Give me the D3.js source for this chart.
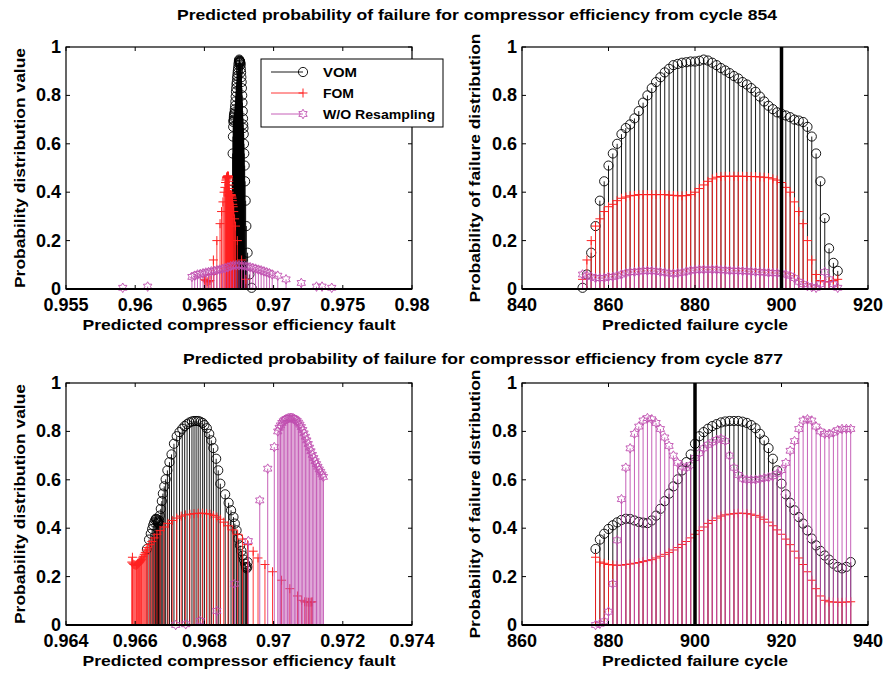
<!DOCTYPE html>
<html>
<head>
<meta charset="utf-8">
<script src="https://cdn.jsdelivr.net/npm/d3@7"></script>
<style>
body { margin: 0; background: #fff; }
text { font-family: "Liberation Sans", Arial, sans-serif; font-weight: bold; fill: #000; }
</style>
</head>
<body>
<svg width="884" height="675"></svg>
<script>
// ---- data: run from cycle 854 ----
var cycles854 = [854,855,856,857,858,859,860,861,862,863,864,865,866,867,868,869,870,871,872,873,
  874,875,876,877,878,879,880,881,882,883,884,885,886,887,888,889,890,891,892,893,
  894,895,896,897,898,899,900,901,902,903,904,905,906,907,908,909,910,911,912,913];
var vom854 = [0.005,0.06,0.15,0.26,0.365,0.445,0.51,0.56,0.60,0.64,
  0.665,0.68,0.705,0.735,0.77,0.80,0.83,0.855,0.875,0.895,
  0.91,0.925,0.93,0.935,0.937,0.94,0.94,0.943,0.948,0.944,
  0.935,0.925,0.913,0.903,0.892,0.88,0.87,0.855,0.845,0.83,
  0.815,0.795,0.775,0.757,0.743,0.73,0.724,0.717,0.71,0.70,
  0.696,0.69,0.67,0.63,0.56,0.445,0.293,0.168,0.108,0.075];
var fom854 = [0.04,0.12,0.2,0.26,0.29,0.32,0.34,0.35,0.365,0.375,
  0.38,0.385,0.387,0.39,0.39,0.39,0.39,0.39,0.39,0.39,
  0.388,0.387,0.385,0.385,0.386,0.39,0.40,0.415,0.43,0.445,
  0.455,0.462,0.465,0.466,0.466,0.466,0.466,0.466,0.465,0.465,
  0.464,0.463,0.462,0.46,0.455,0.45,0.44,0.42,0.40,0.36,
  0.32,0.27,0.2,0.12,0.06,0.035,0.03,0.03,0.035,0.04];
var wom854 = [0.06,0.055,0.05,0.045,0.045,0.045,0.05,0.05,0.055,0.06,
  0.065,0.07,0.07,0.072,0.075,0.075,0.075,0.073,0.07,0.068,
  0.065,0.063,0.065,0.068,0.072,0.076,0.078,0.08,0.08,0.08,
  0.08,0.08,0.078,0.077,0.076,0.075,0.075,0.074,0.073,0.072,
  0.07,0.07,0.068,0.067,0.066,0.065,0.064,0.06,0.055,0.045,
  0.03,0.02,0.012,0.008,0.005,0.02,0.07,0.04,0.02,0.005];
// efficiency fault for the same points
var vomFault854 = [0.96841,0.96825,0.96812,0.96803,0.96798,0.96794,0.96791,0.96788,0.96786,0.96784,
  0.96782,0.96780,0.96779,0.96777,0.96775,0.96773,0.96771,0.96769,0.96767,0.96765,
  0.96763,0.96761,0.96760,0.96759,0.96758,0.96757,0.96756,0.96754,0.96752,0.96750,
  0.96748,0.96746,0.96744,0.96742,0.96740,0.96738,0.96736,0.96734,0.96732,0.96730,
  0.96728,0.96726,0.96724,0.96722,0.96720,0.96718,0.96716,0.96714,0.96713,0.96712,
  0.96711,0.96710,0.96708,0.96706,0.96704,0.96702,0.96700,0.96698,0.96696,0.96694];
var fomFault854 = [0.96800,0.96769,0.96738,0.96725,0.96718,0.96712,0.96708,0.96705,0.96702,0.96700,
  0.96698,0.96696,0.96694,0.96692,0.96691,0.96690,0.96689,0.96688,0.96687,0.96686,
  0.96685,0.96684,0.96683,0.96682,0.96681,0.96680,0.96679,0.96678,0.96677,0.96676,
  0.96675,0.96674,0.96673,0.96672,0.96671,0.96670,0.96669,0.96668,0.96667,0.96666,
  0.96665,0.96664,0.96663,0.96661,0.96659,0.96656,0.96653,0.96648,0.96642,0.96634,
  0.96624,0.96613,0.96590,0.96565,0.96550,0.96540,0.96530,0.96520,0.96510,0.96500];
var womFault854 = [0.9591,0.9609,0.9641,0.9643,0.9645,0.9647,0.9649,0.9651,0.9653,0.9655,
  0.9657,0.9659,0.9661,0.9663,0.9665,0.9667,0.9669,0.9671,0.9673,0.9675,
  0.9677,0.9679,0.9681,0.9683,0.9685,0.9687,0.9689,0.9691,0.9693,0.9695,
  0.9697,0.9699,0.9703,0.9709,0.9720,0.9731,0.9735,0.9742];
var womFaultProb854 = [0.005,0.01,0.05,0.055,0.06,0.062,0.065,0.068,0.07,0.073,
  0.075,0.078,0.08,0.083,0.086,0.09,0.094,0.097,0.098,0.098,
  0.097,0.095,0.093,0.09,0.087,0.084,0.08,0.077,0.073,0.069,
  0.065,0.06,0.055,0.04,0.025,0.01,0.01,0.005];

// ---- data: run from cycle 877 ----
var cycles877 = [877,878,879,880,881,882,883,884,885,886,887,888,889,890,891,892,893,894,895,896,
  897,898,899,900,901,902,903,904,905,906,907,908,909,910,911,912,913,914,915,916,
  917,918,919,920,921,922,923,924,925,926,927,928,929,930,931,932,933,934,935,936];
var vom877 = [0.314,0.353,0.377,0.397,0.412,0.424,0.434,0.439,0.438,0.432,
  0.426,0.423,0.421,0.432,0.452,0.48,0.512,0.543,0.573,0.602,
  0.639,0.673,0.705,0.749,0.78,0.797,0.811,0.822,0.83,0.837,
  0.841,0.843,0.843,0.843,0.84,0.835,0.826,0.813,0.79,0.763,
  0.731,0.687,0.639,0.584,0.54,0.505,0.474,0.446,0.419,0.391,
  0.357,0.329,0.306,0.287,0.27,0.253,0.24,0.234,0.24,0.26];
var fom877 = [0.28,0.26,0.255,0.25,0.248,0.247,0.247,0.25,0.252,0.255,
  0.258,0.262,0.266,0.27,0.277,0.284,0.292,0.30,0.31,0.32,
  0.333,0.345,0.36,0.375,0.39,0.405,0.42,0.432,0.442,0.45,
  0.455,0.458,0.46,0.462,0.462,0.46,0.458,0.453,0.446,0.437,
  0.425,0.41,0.393,0.375,0.355,0.332,0.305,0.277,0.25,0.22,
  0.185,0.15,0.12,0.102,0.096,0.095,0.094,0.094,0.095,0.096];
var wom877 = [0.0,0.005,0.015,0.055,0.17,0.35,0.52,0.65,0.73,0.79,
  0.82,0.845,0.855,0.85,0.835,0.81,0.775,0.74,0.70,0.67,
  0.655,0.65,0.66,0.69,0.71,0.73,0.745,0.755,0.765,0.77,
  0.76,0.70,0.65,0.62,0.605,0.60,0.60,0.60,0.603,0.607,
  0.61,0.615,0.625,0.64,0.67,0.72,0.76,0.81,0.845,0.85,
  0.845,0.82,0.80,0.79,0.79,0.795,0.805,0.81,0.81,0.81];
var vomFault877 = [0.96634,0.96640,0.96645,0.96649,0.96652,0.96655,0.96658,0.96660,0.96662,0.96664,
  0.96665,0.96666,0.96667,0.96669,0.96671,0.96674,0.96677,0.96680,0.96684,0.96688,
  0.96693,0.96699,0.96705,0.96712,0.96720,0.96728,0.96736,0.96743,0.96750,0.96757,
  0.96764,0.96770,0.96776,0.96782,0.96788,0.96795,0.96800,0.96807,0.96814,0.96820,
  0.96826,0.96834,0.96840,0.96846,0.96860,0.96870,0.96877,0.96884,0.96888,0.96893,
  0.96898,0.96903,0.96907,0.96911,0.96914,0.96918,0.96920,0.96922,0.96924,0.96925];
var fomFault877 = [0.96592,0.96590,0.96593,0.96596,0.96599,0.96602,0.96604,0.96606,0.96608,0.96610,
  0.96612,0.96614,0.96616,0.96618,0.96620,0.96623,0.96626,0.96629,0.96632,0.96636,
  0.96642,0.96648,0.96655,0.96663,0.96672,0.96683,0.96695,0.96707,0.96720,0.96733,
  0.96745,0.96758,0.96770,0.96782,0.96794,0.96806,0.96816,0.96826,0.96836,0.96846,
  0.96856,0.96868,0.96882,0.96896,0.96910,0.96925,0.96941,0.96955,0.96975,0.96997,
  0.97023,0.97047,0.97069,0.97081,0.97090,0.97096,0.97101,0.97105,0.97109,0.97112];
var womFault877 = [0.96717,0.96746,0.96788,0.96836,0.96887,0.96927,0.96960,0.96983,0.97002,0.97012,
  0.97016,0.97020,0.97024,0.97028,0.97032,0.97036,0.97040,0.97044,0.97048,0.97052,
  0.97056,0.97060,0.97064,0.97068,0.97072,0.97076,0.97080,0.97084,0.97088,0.97092,
  0.97096,0.97100,0.97104,0.97108,0.97112,0.97116,0.97120,0.97124,0.97128,0.97132,
  0.97136,0.97140,0.97144];
var womFaultProb877 = [0.0,0.003,0.017,0.058,0.17,0.347,0.515,0.646,0.735,0.80,
  0.815,0.825,0.835,0.842,0.847,0.851,0.853,0.855,0.856,0.856,
  0.855,0.852,0.848,0.843,0.836,0.828,0.818,0.806,0.792,0.778,
  0.763,0.748,0.733,0.718,0.703,0.69,0.677,0.665,0.654,0.643,
  0.633,0.622,0.612];

// ---- ticks and labels ----
var yTicks = [0, 0.2, 0.4, 0.6, 0.8, 1];
var yTickLabels = ["0", "0.2", "0.4", "0.6", "0.8", "1"];
var faultTicks854 = [0.955, 0.96, 0.965, 0.97, 0.975, 0.98];
var faultLabels854 = ["0.955", "0.96", "0.965", "0.97", "0.975", "0.98"];
var cycleTicks854 = [840, 860, 880, 900, 920];
var faultTicks877 = [0.964, 0.966, 0.968, 0.97, 0.972, 0.974];
var faultLabels877 = ["0.964", "0.966", "0.968", "0.97", "0.972", "0.974"];
var cycleTicks877 = [860, 880, 900, 920, 940];
var actualFailure = 900;
var legendNames = ["VOM", "FOM", "W/O Resampling"];
var titles = ["Predicted probability of failure for compressor efficiency from cycle 854",
              "Predicted probability of failure for compressor efficiency from cycle 877"];

var svg = d3.select("svg");
var colors = { vom: "#000000", fom: "#ff2020", wom: "#c04fb0" };

// marker shapes
function hexagram(r) {
  var pts = [];
  for (var i = 0; i < 12; i++) {
    var a = -Math.PI / 2 + i * Math.PI / 6;
    var rr = (i % 2 === 0) ? r : r * 0.577;
    pts.push([rr * Math.cos(a), rr * Math.sin(a)]);
  }
  return "M" + pts.map(function (p) { return p[0].toFixed(2) + "," + p[1].toFixed(2); }).join("L") + "Z";
}
function drawMarker(g, kind, cx, cy) {
  if (kind === "vom") {
    g.append("circle").attr("cx", cx).attr("cy", cy).attr("r", 4.6)
      .attr("fill", "none").attr("stroke", colors.vom).attr("stroke-width", 0.9);
  } else if (kind === "fom") {
    g.append("path").attr("d", "M" + (cx - 4.5) + "," + cy + "h9M" + cx + "," + (cy - 4.5) + "v9")
      .attr("stroke", colors.fom).attr("stroke-width", 1);
  } else {
    g.append("path").attr("d", hexagram(4.8)).attr("transform", "translate(" + cx + "," + cy + ")")
      .attr("fill", "none").attr("stroke", colors.wom).attr("stroke-width", 0.9);
  }
}

function panel(o) {
  var x = d3.scaleLinear().domain(o.xDomain).range([o.left, o.left + o.width]);
  var y = d3.scaleLinear().domain([0, 1]).range([o.top + o.height, o.top]);
  var g = svg.append("g");

  // clip marks to the axes box
  var cid = "clip" + o.id;
  svg.append("clipPath").attr("id", cid).append("rect")
    .attr("x", o.left).attr("y", o.top - 6).attr("width", o.width).attr("height", o.height + 12);
  var plot = g.append("g").attr("clip-path", "url(#" + cid + ")");

  o.series.forEach(function (s) {
    var sg = plot.append("g");
    s.x.forEach(function (xv, i) {
      sg.append("line").attr("x1", x(xv)).attr("x2", x(xv))
        .attr("y1", y(0)).attr("y2", y(s.y[i]))
        .attr("stroke", colors[s.kind]).attr("stroke-width", 0.9);
    });
    s.x.forEach(function (xv, i) { drawMarker(sg, s.kind, x(xv), y(s.y[i])); });
  });

  if (o.vline !== undefined) {
    plot.append("line").attr("x1", x(o.vline)).attr("x2", x(o.vline))
      .attr("y1", y(0)).attr("y2", y(1)).attr("stroke", "#000").attr("stroke-width", 3.5);
  }

  // box, ticks
  g.append("rect").attr("x", o.left).attr("y", o.top).attr("width", o.width).attr("height", o.height)
    .attr("fill", "none").attr("stroke", "#000").attr("stroke-width", 1.2);
  g.append("line").attr("x1", o.left).attr("x2", o.left + o.width).attr("y1", y(0)).attr("y2", y(0))
    .attr("stroke", "#000").attr("stroke-width", 2);
  var tl = 4;
  o.xTicks.forEach(function (t, i) {
    g.append("line").attr("x1", x(t)).attr("x2", x(t)).attr("y1", o.top + o.height).attr("y2", o.top + o.height - tl)
      .attr("stroke", "#000");
    g.append("line").attr("x1", x(t)).attr("x2", x(t)).attr("y1", o.top).attr("y2", o.top + tl)
      .attr("stroke", "#000");
    g.append("text").attr("x", x(t)).attr("y", o.top + o.height + 22)
      .attr("text-anchor", "middle").style("font-size", "18px").text(o.xLabels[i]);
  });
  yTicks.forEach(function (t, i) {
    g.append("line").attr("x1", o.left).attr("x2", o.left + tl).attr("y1", y(t)).attr("y2", y(t)).attr("stroke", "#000");
    g.append("line").attr("x1", o.left + o.width).attr("x2", o.left + o.width - tl).attr("y1", y(t)).attr("y2", y(t)).attr("stroke", "#000");
    g.append("text").attr("x", o.left - 5).attr("y", y(t) + 6)
      .attr("text-anchor", "end").style("font-size", "18px").text(yTickLabels[i]);
  });

  g.append("text").attr("x", o.left + o.width / 2).attr("y", o.top + o.height + 41)
    .attr("text-anchor", "middle").style("font-size", "15.5px")
    .attr("textLength", o.xTitleLen).attr("lengthAdjust", "spacingAndGlyphs").text(o.xTitle);
  g.append("text")
    .attr("transform", "translate(" + (o.left + o.ylabelDx) + "," + (o.top + o.height / 2) + ") rotate(-90)")
    .attr("text-anchor", "middle").style("font-size", "15.5px")
    .attr("textLength", o.yTitleLen).attr("lengthAdjust", "spacingAndGlyphs").text(o.yTitle);
}

panel({ id: 1, left: 66, top: 47, width: 346, height: 242, xDomain: [0.955, 0.98],
  xTicks: faultTicks854, xLabels: faultLabels854,
  xTitle: "Predicted compressor efficiency fault", xTitleLen: 313,
  yTitle: "Probability distribution value", yTitleLen: 240, ylabelDx: -41,
  series: [{ kind: "vom", x: vomFault854, y: vom854 },
           { kind: "fom", x: fomFault854, y: fom854 },
           { kind: "wom", x: womFault854, y: womFaultProb854 }] });
panel({ id: 2, left: 522, top: 47, width: 346, height: 242, xDomain: [840, 920],
  xTicks: cycleTicks854, xLabels: cycleTicks854.map(String),
  xTitle: "Predicted failure cycle", xTitleLen: 186,
  yTitle: "Probability of failure distribution", yTitleLen: 269, ylabelDx: -42,
  vline: actualFailure,
  series: [{ kind: "vom", x: cycles854, y: vom854 },
           { kind: "fom", x: cycles854, y: fom854 },
           { kind: "wom", x: cycles854, y: wom854 }] });
panel({ id: 3, left: 66, top: 383, width: 346, height: 242, xDomain: [0.964, 0.974],
  xTicks: faultTicks877, xLabels: faultLabels877,
  xTitle: "Predicted compressor efficiency fault", xTitleLen: 313,
  yTitle: "Probability distribution value", yTitleLen: 240, ylabelDx: -41,
  series: [{ kind: "vom", x: vomFault877, y: vom877 },
           { kind: "fom", x: fomFault877, y: fom877 },
           { kind: "wom", x: womFault877, y: womFaultProb877 }] });
panel({ id: 4, left: 522, top: 383, width: 346, height: 242, xDomain: [860, 940],
  xTicks: cycleTicks877, xLabels: cycleTicks877.map(String),
  xTitle: "Predicted failure cycle", xTitleLen: 186,
  yTitle: "Probability of failure distribution", yTitleLen: 269, ylabelDx: -42,
  vline: actualFailure,
  series: [{ kind: "vom", x: cycles877, y: vom877 },
           { kind: "fom", x: cycles877, y: fom877 },
           { kind: "wom", x: cycles877, y: wom877 }] });

// titles
svg.append("text").attr("x", 477).attr("y", 20).attr("text-anchor", "middle").style("font-size", "15.5px")
  .attr("textLength", 600).attr("lengthAdjust", "spacingAndGlyphs").text(titles[0]);
svg.append("text").attr("x", 483).attr("y", 364).attr("text-anchor", "middle").style("font-size", "15.5px")
  .attr("textLength", 600).attr("lengthAdjust", "spacingAndGlyphs").text(titles[1]);

// legend
var legendLens = [34, 31, 112];
var lg = svg.append("g");
lg.append("rect").attr("x", 261).attr("y", 59).attr("width", 182).attr("height", 68)
  .attr("fill", "#fff").attr("stroke", "#000").attr("stroke-width", 1);
["vom", "fom", "wom"].forEach(function (k, i) {
  var yy = 72 + i * 21;
  lg.append("line").attr("x1", 271).attr("x2", 303).attr("y1", yy).attr("y2", yy)
    .attr("stroke", colors[k]).attr("stroke-width", 0.9);
  drawMarker(lg, k, 303, yy);
  lg.append("text").attr("x", 323).attr("y", yy + 5).style("font-size", "13px")
    .attr("textLength", legendLens[i]).attr("lengthAdjust", "spacingAndGlyphs").text(legendNames[i]);
});
</script>
</body>
</html>
